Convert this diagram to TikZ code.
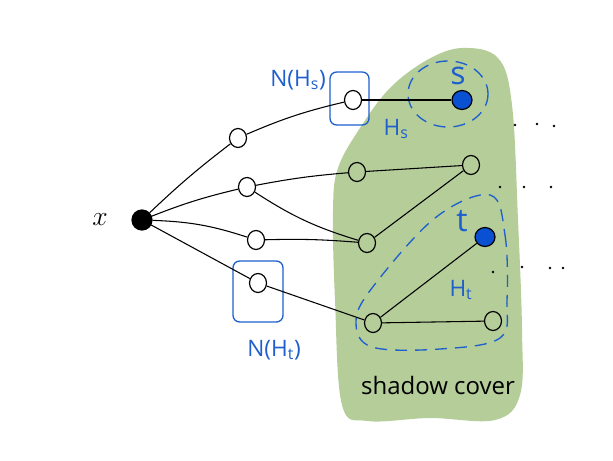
\documentclass[tikz,border=0pt]{standalone}
\usepackage{fontspec}
\newfontfamily\hand{Open Sans}
\usetikzlibrary{shapes.geometric}
\definecolor{blobgreen}{RGB}{180,205,153}
\definecolor{penblue}{RGB}{30,95,205}
\definecolor{dotblue}{RGB}{10,80,210}
\tikzset{
  vtx/.style={draw=black,line width=0.9pt,ellipse,minimum width=17pt*0.75,minimum height=19pt*0.75,inner sep=0pt,fill=none},
  xvtx/.style={draw=black,line width=0.9pt,circle,minimum size=20pt*0.75,inner sep=0pt,fill=black},
  bvtx/.style={draw=black,line width=0.9pt,ellipse,minimum width=20pt*0.75,minimum height=19pt*0.75,inner sep=0pt,fill=dotblue},
  edge/.style={draw=black,line width=0.8pt},
  bluebox/.style={draw=penblue,line width=1pt,rounded corners=5pt},
  bluedash/.style={draw=penblue,line width=1pt,dash pattern=on 9pt off 6pt},
  lab/.style={text=penblue,font=\hand\fontsize{17}{19}\selectfont,inner sep=0pt},
  biglab/.style={text=penblue,font=\hand\fontsize{24}{26}\selectfont,inner sep=0pt},
  dotm/.style={fill=black,circle,inner sep=0pt,minimum size=2pt}
}
\begin{document}
\begin{tikzpicture}[x=0.75pt,y=-0.75pt]
\useasboundingbox (0,0) rectangle (613,460);
% shadow cover blob
\fill[blobgreen] plot[smooth cycle,tension=0.6] coordinates {(342,405) (335,300) (333,210) (338,168) (360,128) (390,88) (427,60) (462,48) (498,58) (512,105) (518,220) (522,330) (520,395) (495,420) (430,418) (368,421)};
\node[font=\hand\fontsize{18}{20}\selectfont,inner sep=0pt] (sc) at (438,385) {shadow cover};
% dashed regions
\draw[bluedash] (448,94) ellipse [x radius=40, y radius=33];
\draw[bluedash] plot[smooth cycle,tension=0.6] coordinates {(490,195) (505,235) (507,300) (500,338) (440,349) (372,347) (356,322) (372,288) (435,218)};
% boxes
\draw[bluebox] (330,72) rectangle (369,125);
\draw[bluebox] (233,261) rectangle (283,322);
% vertices
\node[xvtx] (x) at (142,220) {};
\node[vtx] (a1) at (238,138) {};
\node[vtx] (a2) at (247,187) {};
\node[vtx] (a3) at (256,240) {};
\node[vtx] (a4) at (258,283) {};
\node[vtx] (b1) at (353,100) {};
\node[vtx] (b2) at (357,172) {};
\node[vtx] (b3) at (367,243) {};
\node[vtx] (b4) at (373,323) {};
\node[bvtx] (s) at (462,100) {};
\node[vtx] (c2) at (471,165) {};
\node[bvtx] (t) at (485,237) {};
\node[vtx] (c4) at (493,321) {};
% edges
\draw[edge] (x) to[bend left=3] (a1);
\draw[edge] (x) to[bend left=4] (a2);
\draw[edge] (x) to[bend left=8] (a3);
\draw[edge] (x) -- (a4);
\draw[edge] (a1) to[bend left=5] (b1);
\draw[edge] (a2) to[bend left=3] (b2);
\draw[edge] (a2) to[bend right=8] (b3);
\draw[edge] (a3) to[bend left=3] (b3);
\draw[edge] (a4) -- (b4);
\draw[edge] (b1) -- (s);
\draw[edge] (b2) -- (c2);
\draw[edge] (c2) -- (b3);
\draw[edge] (b4) -- (t);
\draw[edge] (b4) -- (c4);
% labels
\node[font=\fontsize{22}{24}\selectfont,inner sep=0pt] (xl) at (100,220) {$x$};
\node[lab] (nhs) at (298,80) {N(H\textsubscript{s})};
\node[lab] (nht) at (274,350) {N(H\textsubscript{t})};
\node[lab] (hs) at (396,129) {H\textsubscript{s}};
\node[lab] (ht) at (461,290) {H\textsubscript{t}};
\node[biglab] (sl) at (458,76) {s};
\node[biglab] (tl) at (462,221) {t};
% dots
\foreach \p in {(515,125),(537,124),(554,126),(500,187),(524,187),(551,187),(493,272),(522,267),(550,268),(563,268)}
  \node[dotm] at \p {};
\end{tikzpicture}
\end{document}
